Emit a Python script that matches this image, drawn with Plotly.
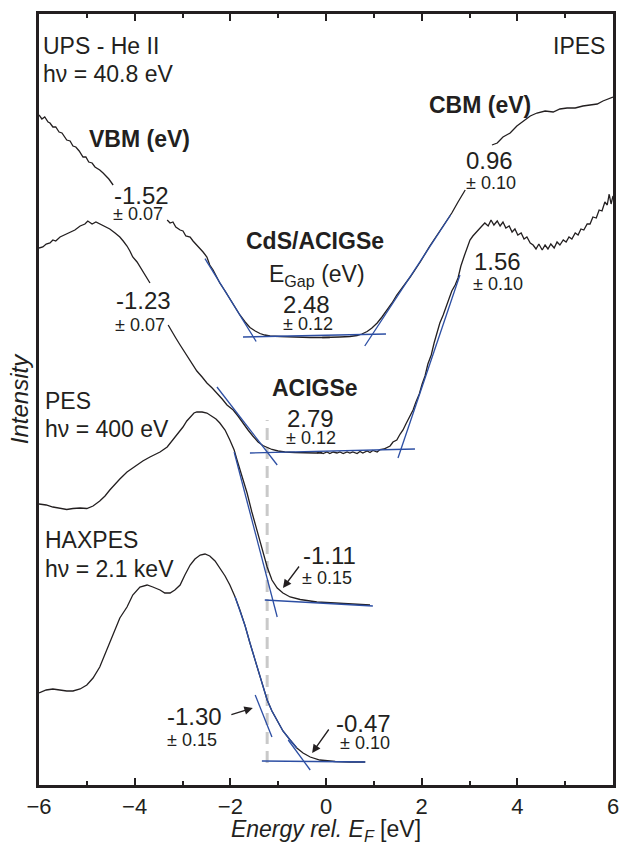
import plotly.graph_objects as go

# ---------------- spectra (energy in eV rel. E_F, intensity in arb. units) ----------------
# UPS (He II) of CdS/ACIGSe, valence band region
ups_cds_e = [-6.00, -5.94, -5.88, -5.81, -5.77, -5.71, -5.65, -5.58, -5.52, -5.46, -5.42, -5.35,
             -5.29, -5.23, -5.16, -5.08, -5.02, -4.96, -4.89, -4.83, -4.73, -4.66, -4.60, -4.54,
             -4.45, None,
             -3.32, -3.26, -3.20, -3.14, -3.05, -2.99, -2.93, -2.84, -2.78, -2.72, -2.63, -2.57,
             -2.49, -2.43, -2.36, -2.28, -2.22, -2.11, -2.01, -1.90, -1.80, -1.69, -1.59, -1.48,
             -1.38, -1.28, -1.17, -0.96, -0.75, -0.54, -0.33, -0.13, 0.08]
ups_cds_i = [6.70, 6.66, 6.68, 6.63, 6.62, 6.58, 6.58, 6.53, 6.52, 6.48, 6.45, 6.44,
             6.39, 6.38, 6.34, 6.28, 6.28, 6.23, 6.22, 6.18, 6.15, 6.12, 6.09, 6.06,
             6.00, None,
             5.65, 5.62, 5.63, 5.58, 5.55, 5.54, 5.49, 5.48, 5.44, 5.41, 5.37, 5.33,
             5.28, 5.20, 5.15, 5.08, 5.02, 4.94, 4.86, 4.78, 4.70, 4.63, 4.575, 4.54,
             4.515, 4.50, 4.49, 4.485, 4.48, 4.475, 4.475, 4.475, 4.475]

# IPES of CdS/ACIGSe, conduction band region
ipes_cds_e = [-0.08, 0.08, 0.29, 0.50, 0.65, 0.75, 0.86, 0.96, 1.07, 1.17, 1.28, 1.38, 1.48,
              1.59, 1.76, 1.97, 2.17, 2.38, 2.51, 2.63, 2.76, 2.91, None,
              3.47, 3.58, 3.70, 3.85, 3.99, 4.12, 4.27, 4.41, 4.58, 4.75, 4.89, 5.04, 5.21,
              5.37, 5.52, 5.67, 5.79, 5.90, 6.00]
ipes_cds_i = [4.475, 4.475, 4.48, 4.485, 4.495, 4.51, 4.535, 4.57, 4.62, 4.68, 4.75, 4.82, 4.90,
              4.97, 5.08, 5.23, 5.39, 5.54, 5.63, 5.72, 5.83, 5.95, None,
              6.40, 6.42, 6.48, 6.52, 6.59, 6.64, 6.69, 6.72, 6.74, 6.73, 6.76, 6.77, 6.77,
              6.79, 6.80, 6.81, 6.84, 6.86, 6.88]

# UPS (He II) of bare ACIGSe
ups_acigse_e = [-6.00, -5.92, -5.85, -5.77, -5.71, -5.65, -5.56, -5.46, -5.35, -5.25, -5.14, -5.04,
                -4.98, -4.89, -4.81, -4.73, -4.62, -4.52, -4.41, -4.31, -4.24, -4.16, -4.10, -4.04,
                -3.95, -3.89, -3.83, -3.74, -3.68, None,
                -3.30, -3.22, -3.14, -3.05, -2.97, -2.89, -2.78, -2.70, -2.59, -2.49, -2.38, -2.28,
                -2.17, -2.07, -1.94, -1.84, -1.74, -1.63, -1.53, -1.42, -1.32, -1.23, -1.13, -1.00,
                -0.86, -0.65, -0.44, -0.23, -0.08]
ups_acigse_i = [5.37, 5.38, 5.41, 5.42, 5.45, 5.44, 5.48, 5.50, 5.53, 5.55, 5.59, 5.61,
                5.64, 5.61, 5.63, 5.61, 5.59, 5.56, 5.52, 5.48, 5.44, 5.39, 5.34, 5.28,
                5.23, 5.18, 5.13, 5.07, 5.02, None,
                4.60, 4.53, 4.47, 4.40, 4.34, 4.28, 4.20, 4.14, 4.08, 4.02, 3.97, 3.92,
                3.86, 3.80, 3.75, 3.69, 3.62, 3.55, 3.49, 3.43, 3.395, 3.375, 3.355, 3.34,
                3.33, 3.325, 3.32, 3.32, 3.32]

# IPES of bare ACIGSe
ipes_acigse_e = [-0.19, -0.13, -0.06, 0.02, 0.08, 0.15, 0.23, 0.29, 0.36, 0.44, 0.50, 0.56, 0.65,
                 0.71, 0.77, 0.86, 0.92, 0.98, 1.07, 1.13, 1.21, 1.28, 1.34, 1.40, 1.48, 1.55,
                 1.61, 1.67, 1.76, 1.82, 1.88, 1.95, 2.01, 2.07, 2.13, 2.20, 2.26, 2.32, 2.38,
                 2.45, 2.51, 2.57, 2.63, 2.70, 2.76, 2.82, 2.89, 2.95, 3.01, 3.07, 3.14, 3.20,
                 3.26, 3.32, 3.39, 3.45, 3.51, 3.58, 3.64, 3.70, 3.76, 3.83, 3.89, 3.95, 4.01,
                 4.08, 4.14, 4.20, 4.27, 4.33, 4.39, 4.45, 4.52, 4.58, 4.64, 4.70, 4.77, 4.83,
                 4.89, 4.96, 5.02, 5.08, 5.14, 5.21, 5.27, 5.33, 5.39, 5.46, 5.52, 5.58, 5.65,
                 5.71, 5.77, 5.83, 5.88, 5.92, 5.96, 6.00]
ipes_acigse_i = [3.32, 3.33, 3.315, 3.33, 3.315, 3.33, 3.32, 3.33, 3.315, 3.33, 3.32, 3.33, 3.315,
                 3.335, 3.32, 3.34, 3.325, 3.345, 3.33, 3.355, 3.36, 3.38, 3.39, 3.43, 3.45, 3.51,
                 3.55, 3.61, 3.69, 3.75, 3.83, 3.91, 4.01, 4.09, 4.21, 4.30, 4.42, 4.51, 4.62,
                 4.70, 4.79, 4.86, 4.94, 5.00, 5.07, 5.19, 5.29, 5.37, 5.45, 5.49, 5.53, 5.56,
                 5.59, 5.62, 5.59, 5.65, 5.60, 5.64, 5.59, 5.63, 5.57, 5.59, 5.53, 5.56, 5.50,
                 5.52, 5.46, 5.48, 5.42, 5.40, 5.36, 5.41, 5.35, 5.40, 5.36, 5.41, 5.37, 5.43,
                 5.40, 5.45, 5.43, 5.48, 5.46, 5.52, 5.50, 5.56, 5.55, 5.61, 5.61, 5.68, 5.67,
                 5.75, 5.74, 5.83, 5.80, 5.91, 5.81, 5.89]

# PES (hv = 400 eV)
pes_e = [-6.00, -5.85, -5.71, -5.56, -5.42, -5.29, -5.14, -5.00, -4.87, -4.73, -4.62, -4.52,
         -4.41, -4.31, -4.16, -3.99, -3.83, -3.68, -3.47, -3.32, -3.20, -3.09, -2.99, -2.91,
         -2.84, -2.76, -2.70, -2.59, -2.49, -2.38, -2.30, -2.22, -2.11, -2.01, -1.92, -1.86,
         -1.76, -1.65, -1.55, -1.44, -1.34, -1.23, -1.13, -1.02, -0.90, -0.75, -0.54, -0.19,
         0.19, 0.61, 0.92]
pes_i = [2.81, 2.80, 2.78, 2.77, 2.755, 2.765, 2.77, 2.765, 2.79, 2.84, 2.89, 2.95,
         3.01, 3.06, 3.13, 3.19, 3.24, 3.28, 3.33, 3.38, 3.45, 3.51, 3.58, 3.64,
         3.68, 3.72, 3.73, 3.73, 3.72, 3.69, 3.66, 3.62, 3.55, 3.45, 3.35, 3.25,
         3.09, 2.92, 2.73, 2.55, 2.36, 2.18, 2.05, 1.97, 1.92, 1.88, 1.855, 1.83,
         1.82, 1.81, 1.80]

# HAXPES (hv = 2.1 keV)
haxpes_e = [-6.00, -5.85, -5.71, -5.56, -5.42, -5.29, -5.14, -5.00, -4.87, -4.73, -4.60, -4.45,
            -4.31, -4.16, -4.04, -3.89, -3.74, -3.62, -3.47, -3.37, -3.26, -3.16, -3.05, -2.95,
            -2.84, -2.74, -2.63, -2.53, -2.43, -2.32, -2.22, -2.11, -2.01, -1.90, -1.80, -1.69,
            -1.59, -1.48, -1.38, -1.30, -1.23, -1.13, -1.02, -0.90, -0.75, -0.61, -0.48, -0.33,
            -0.13, 0.19, 0.50, 0.82]
haxpes_i = [0.92, 0.95, 0.96, 0.95, 0.94, 0.94, 0.96, 1.00, 1.07, 1.18, 1.33, 1.52,
            1.67, 1.78, 1.90, 1.98, 2.00, 1.98, 1.95, 1.92, 1.92, 1.95, 2.00, 2.10,
            2.20, 2.26, 2.30, 2.31, 2.29, 2.24, 2.17, 2.09, 2.00, 1.88, 1.75, 1.59,
            1.42, 1.25, 1.08, 0.95, 0.85, 0.74, 0.65, 0.54, 0.45, 0.37, 0.32, 0.28,
            0.25, 0.235, 0.23, 0.23]

# ---------------- linear extrapolations (endpoints: energy, intensity) ----------------
fit_lines = {
    "ups_cds_edge":    ([-2.53, -1.46], [5.264, 4.435]),
    "cds_base":        ([-1.735, 1.254], [4.48, 4.51]),
    "ipes_cds_edge":   ([0.81, 2.605], [4.39, 5.70]),
    "ups_acigse_edge": ([-2.28, -1.02], [3.98, 3.20]),
    "acigse_base":     ([-1.59, 1.86], [3.32, 3.36]),
    "ipes_acigse_edge": ([1.505, 2.80], [3.27, 5.10]),
    "pes_edge":        ([-1.92, -1.02], [3.33, 1.68]),
    "pes_base":        ([-1.28, 0.98], [1.85, 1.79]),
    "haxpes_edge1":    ([-1.48, -1.13], [0.90, 0.48]),
    "haxpes_edge2":    ([-0.79, -0.33], [0.45, 0.15]),
    "haxpes_base":     ([-1.34, 0.82], [0.24, 0.23]),
}
haxpes_fit_range = (-1.90, -0.61)

# reference position of the bare ACIGSe VBM
vbm_ref = -1.23
vbm_ref_span = (0.22, 3.65)

# ---------------- text labels ----------------
# (text, energy, intensity, size, bold, xanchor)
labels = [
    ("UPS - He II", -5.95, 7.39, 23, False, "left"),
    ("h\u03bd = 40.8 eV", -5.95, 7.11, 23, False, "left"),
    ("IPES", 5.87, 7.39, 23, False, "right"),
    ("VBM (eV)", -3.89, 6.46, 23, True, "center"),
    ("CBM (eV)", 3.21, 6.80, 23, True, "center"),
    ("-1.52", -3.85, 5.90, 24, False, "center"),
    ("\u00b1 0.07", -3.92, 5.71, 18, False, "center"),
    ("-1.23", -3.82, 4.845, 24, False, "center"),
    ("\u00b1 0.07", -3.88, 4.605, 18, False, "center"),
    ("CdS/ACIGSe", -0.23, 5.44, 23, True, "center"),
    ("E<sub>Gap</sub> (eV)", -0.19, 5.10, 23, False, "center"),
    ("2.48", -0.41, 4.81, 24, False, "center"),
    ("\u00b1 0.12", -0.38, 4.61, 18, False, "center"),
    ("ACIGSe", -0.22, 3.97, 23, True, "center"),
    ("2.79", -0.33, 3.67, 24, False, "center"),
    ("\u00b1 0.12", -0.31, 3.47, 18, False, "center"),
    ("0.96", 3.41, 6.25, 24, False, "center"),
    ("\u00b1 0.10", 3.44, 6.02, 18, False, "center"),
    ("1.56", 3.59, 5.235, 24, False, "center"),
    ("\u00b1 0.10", 3.59, 5.015, 18, False, "center"),
    ("PES", -5.91, 3.84, 23, False, "left"),
    ("h\u03bd = 400 eV", -5.91, 3.56, 23, False, "left"),
    ("HAXPES", -5.91, 2.455, 23, False, "left"),
    ("h\u03bd = 2.1 keV", -5.91, 2.16, 23, False, "left"),
    ("-1.11", 0.08, 2.30, 24, False, "center"),
    ("\u00b1 0.15", 0.03, 2.07, 18, False, "center"),
    ("-1.30", -2.75, 0.685, 24, False, "center"),
    ("\u00b1 0.15", -2.80, 0.455, 18, False, "center"),
    ("-0.47", 0.79, 0.615, 24, False, "center"),
    ("\u00b1 0.10", 0.815, 0.42, 18, False, "center"),
]

# arrows: (head energy, head intensity, tail energy, tail intensity)
arrows = [
    (-0.90, 1.97, -0.54, 2.20),
    (-1.53, 0.77, -2.01, 0.70),
    (-0.29, 0.32, 0.08, 0.57),
]

INK = "#231f20"
BLUE = "#2c4ea3"
FONT = "Liberation Sans, Arial, sans-serif"

fig = go.Figure()

# dashed reference line at the ACIGSe VBM
fig.add_trace(go.Scatter(x=[vbm_ref, vbm_ref], y=list(vbm_ref_span), mode="lines",
                         line=dict(color="#c9c9c9", width=3, dash="12px,7px"),
                         hoverinfo="skip", showlegend=False))

for xs, ys in [(ups_cds_e, ups_cds_i), (ipes_cds_e, ipes_cds_i),
               (ups_acigse_e, ups_acigse_i), (ipes_acigse_e, ipes_acigse_i),
               (pes_e, pes_i), (haxpes_e, haxpes_i)]:
    fig.add_trace(go.Scatter(x=xs, y=ys, mode="lines", connectgaps=False,
                             line=dict(color=INK, width=1.3), showlegend=False))

# fitted part of the HAXPES edge
hx = [e for e in haxpes_e if haxpes_fit_range[0] <= e <= haxpes_fit_range[1]]
hy = [i for e, i in zip(haxpes_e, haxpes_i) if haxpes_fit_range[0] <= e <= haxpes_fit_range[1]]
fig.add_trace(go.Scatter(x=hx, y=hy, mode="lines", line=dict(color=BLUE, width=1.3),
                         showlegend=False))

for name, (xs, ys) in fit_lines.items():
    fig.add_trace(go.Scatter(x=xs, y=ys, mode="lines", name=name,
                             line=dict(color=BLUE, width=1.3), showlegend=False))

for text, x, y, size, bold, xa in labels:
    fig.add_annotation(x=x, y=y, text=f"<b>{text}</b>" if bold else text, showarrow=False,
                       xanchor=xa, yanchor="middle",
                       font=dict(family=FONT, size=size, color=INK))

for hx_, hy_, tx, ty in arrows:
    fig.add_annotation(x=hx_, y=hy_, ax=tx, ay=ty, axref="x", ayref="y", text="",
                       showarrow=True, arrowhead=2, arrowsize=1.3, arrowwidth=1.3,
                       arrowcolor=INK, standoff=0, startstandoff=0)

fig.update_layout(
    width=621, height=845,
    margin=dict(l=39, r=8, t=14, b=60),
    paper_bgcolor="white", plot_bgcolor="white",
    font=dict(family=FONT, color=INK),
    showlegend=False,
)
fig.update_xaxes(
    range=[-6, 6], tickvals=[-6, -4, -2, 0, 2, 4, 6],
    ticks="inside", ticklen=7, tickwidth=2, tickcolor=INK,
    minor=dict(dtick=1, ticks="inside", ticklen=4, tickwidth=2, tickcolor=INK),
    showline=True, linewidth=2.5, linecolor=INK, mirror="ticks",
    showgrid=False, zeroline=False,
    tickfont=dict(family=FONT, size=22, color=INK),
    ticklabelstandoff=0,
    title=dict(text="<i>Energy rel. E<sub>F</sub></i> [eV]",
               font=dict(family=FONT, size=23, color=INK), standoff=8),
    automargin=False,
)
fig.update_yaxes(
    range=[0, 7.71], showticklabels=False, ticks="",
    showline=True, linewidth=2.5, linecolor=INK, mirror=True,
    showgrid=False, zeroline=False,
    title=dict(text="<i>Intensity</i>", font=dict(family=FONT, size=24, color=INK), standoff=1),
    automargin=False,
)

fig.write_html("out.html")
